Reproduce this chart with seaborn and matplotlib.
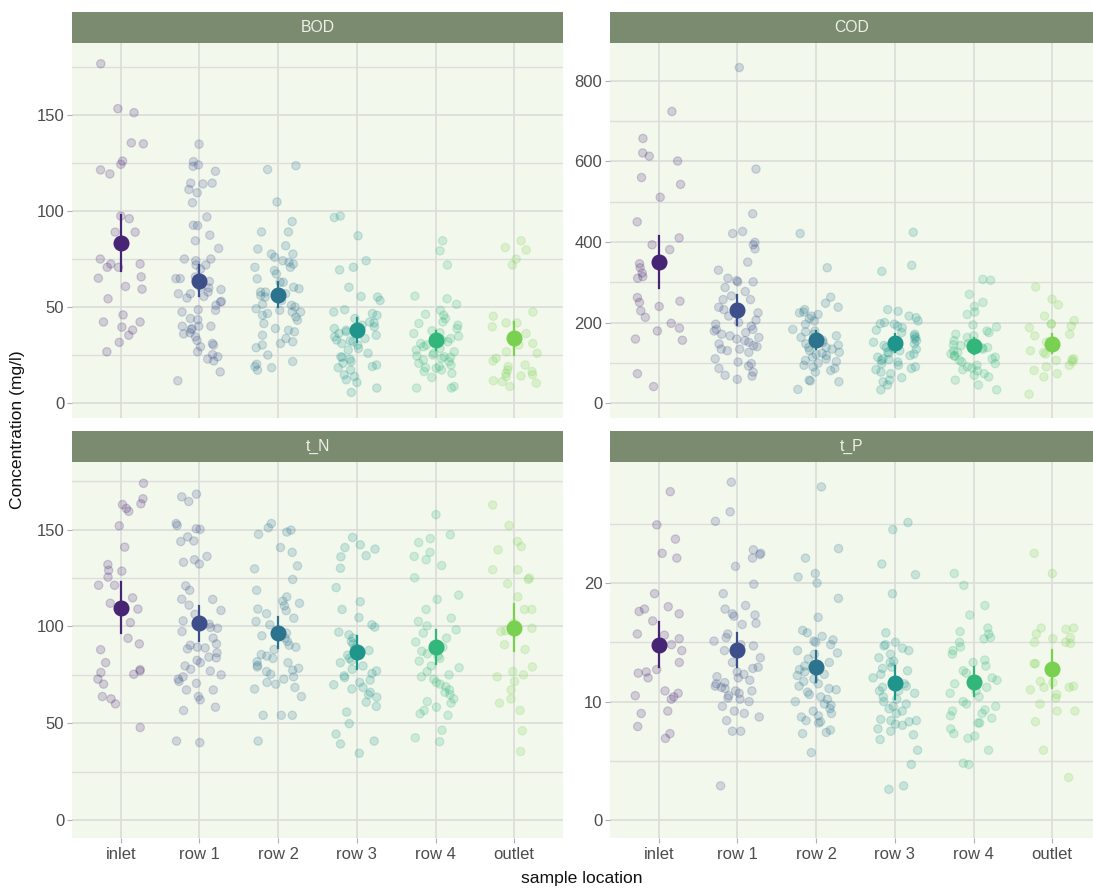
import numpy as np
import pandas as pd
import matplotlib
matplotlib.use("Agg")
import matplotlib.pyplot as plt
from matplotlib.patches import Rectangle
import seaborn as sns

locations = ["inlet", "row 1", "row 2", "row 3", "row 4", "outlet"]
parameters = ["BOD", "COD", "t_N", "t_P"]

# ---- BOD (mg/l) ----
bod_inlet = [176.7, 151.2, 153.3, 135.5, 135, 126, 124.3, 121.4, 119.3, 97.4, 96, 89, 89, 75, 72.4,
             72.4, 70.7, 70.7, 65.7, 65, 60.7, 59.3, 54.3, 45.9, 42.2, 42.2, 39.5, 38, 35.3, 31.6, 26.7]
bod_row1 = [134.8, 125.7, 124, 123.3, 120.7, 114.5, 114.5, 114.1, 111.2, 109.5, 104.3, 96.9, 92.6, 92.4,
            87.4, 84.5, 80.5, 75, 75, 74.1, 71.9, 71.9, 69.7, 65.7, 64.8, 64.8, 63.3, 60.2, 60, 59.1,
            57.8, 56.9, 56.9, 55.5, 54.7, 52.9, 52.6, 50.9, 48.6, 48.3, 47.4, 44, 43.4, 40, 40, 40,
            38.8, 38.3, 36.6, 36, 34.5, 32.6, 31, 30.2, 29.3, 26.7, 25.2, 24.1, 22.9, 21.9, 16.2, 11.6]
bod_row2 = [123.6, 121.6, 104.7, 94.5, 89.1, 89.1, 81.9, 80.2, 77.6, 77.6, 75.9, 74.1, 73.3, 72.4, 70.7,
            70.7, 69, 67.2, 64.7, 62.9, 62.9, 60.3, 59.5, 57.8, 57.8, 56.9, 56, 55.2, 53.4, 51.4, 50.9,
            50, 49.1, 48.3, 47.4, 47.4, 46.6, 45.7, 44.8, 43.1, 41.4, 38.8, 37.9, 37.1, 35.3, 33.6,
            31.9, 31, 30.2, 28.8, 25, 21.6, 20.2, 19, 18.4, 17.1]
bod_row3 = [97.4, 96.6, 87.1, 74.1, 70.7, 69.3, 60.3, 55.5, 55.2, 53.4, 48.6, 47.4, 46.6, 45.7, 44,
            42.2, 41.7, 40.5, 39.7, 38.8, 37.9, 37.1, 36.2, 35.3, 34.5, 33.6, 32.8, 32.4, 31.9, 31,
            30.2, 28.4, 27.6, 25.9, 24.1, 23.8, 22.8, 21.6, 20.7, 19.8, 19, 18.4, 17.2, 14.7, 13.8,
            12.1, 10.7, 7.8, 5.5]
bod_row4 = [84.5, 79.3, 71.9, 55.7, 54.3, 51.4, 48.3, 46.2, 45.7, 44, 42.2, 41.4, 40.5, 38.8, 37.6,
            36.6, 36.2, 34.8, 33.6, 32.8, 31.9, 31, 30.2, 29.3, 28.4, 27.6, 26.7, 25.9, 25, 24.5,
            24.1, 23.8, 23.3, 22.4, 21.6, 20.7, 19.8, 19, 18.4, 18.1, 17.2, 16.4, 15.5, 13.3, 8.6,
            7.8, 7.8]
bod_outlet = [84.5, 81, 79.7, 75, 71.9, 47.4, 45.2, 41.7, 41.7, 39.7, 36.2, 34.8, 31, 30.2, 26.7,
              25.9, 23.3, 21.9, 19.8, 19, 17.2, 16.4, 15.5, 14.7, 14.1, 13.8, 11.6, 11.2, 10.3, 8.6]

# ---- COD (mg/l) ----
cod_inlet = [621, 613, 601, 657, 724, 560, 543, 511, 450, 410, 393, 381, 354, 346, 336, 323, 314,
             310, 262, 253, 250, 240, 229, 213, 198, 186, 179, 159, 156, 73, 41]
cod_row1 = [833, 581, 470, 426, 421, 393, 399, 383, 350, 330, 310, 304, 301, 301, 287, 277, 266,
            257, 257, 238, 238, 232, 224, 216, 206, 200, 196, 191, 183, 183, 179, 175, 171, 167,
            163, 159, 155, 151, 147, 143, 140, 134, 134, 130, 126, 110, 102, 98, 92, 86, 77, 69,
            67, 59]
cod_row2 = [421, 336, 263, 248, 238, 232, 226, 224, 220, 216, 210, 204, 196, 183, 179, 177, 171,
            167, 163, 156, 151, 147, 147, 144, 138, 138, 134, 130, 126, 124, 121, 118, 114, 110,
            106, 103, 99, 94, 90, 86, 81, 77, 57, 55, 53, 34]
cod_row3 = [424, 342, 327, 232, 228, 216, 212, 204, 200, 197, 196, 191, 187, 181, 175, 171, 167,
            163, 159, 155, 151, 147, 143, 138, 137, 134, 130, 126, 124, 122, 118, 114, 110, 108,
            106, 102, 98, 94, 90, 86, 83, 77, 73, 63, 57, 53, 45, 33]
cod_row4 = [305, 307, 270, 250, 240, 226, 220, 194, 189, 179, 175, 171, 167, 163, 155, 148, 145,
            143, 138, 137, 134, 130, 126, 122, 118, 116, 114, 110, 106, 102, 98, 94, 90, 87, 83,
            80, 73, 69, 65, 57, 45, 33]
cod_outlet = [288, 258, 244, 216, 205, 197, 196, 191, 187, 171, 167, 151, 147, 143, 130, 126, 122,
              110, 108, 106, 103, 94, 90, 81, 73, 65, 22]

# ---- total N (mg/l) ----
tn_inlet = [174, 166, 163, 161, 159.5, 163.4, 152, 141, 132, 129, 128.6, 125.5, 121.3, 121.3, 114.8,
            112, 109, 102, 93.9, 91, 88, 81.3, 77.7, 77, 76.2, 75.3, 72.8, 70.2, 63.8, 62.6, 60, 47.8]
tn_row1 = [168.4, 167, 164.6, 153.2, 152.2, 150.5, 150.2, 146.3, 144.2, 143.9, 136.2, 134.5, 133.2,
           132.3, 121, 118.7, 114.1, 114, 111, 108.3, 106.3, 102.9, 101.2, 99.5, 99.1, 97.4, 94, 91,
           90.3, 89.3, 88.9, 88.4, 86.4, 84.2, 83.8, 82.5, 81.3, 79.6, 77.9, 77, 75, 74, 72.8, 71.6,
           70.6, 67.2, 67.2, 63.8, 62.1, 58.3, 56.6, 40.8, 40]
tn_row2 = [153.2, 151, 149.8, 148.8, 147.6, 140.8, 138.3, 131.3, 129.8, 124.3, 118.7, 115.3, 113.1,
           112, 110.7, 109, 108.2, 106.6, 104.3, 102.6, 100.9, 96.6, 95.2, 94, 92.3, 90.3, 89.3, 88.1,
           85.5, 84.7, 83.5, 81.8, 81.3, 79.9, 79.1, 78.4, 77.4, 76.7, 75.3, 74, 72.8, 71.1, 70.2,
           68.5, 67.7, 63.8, 54.1, 54.1, 54.1, 40.8]
tn_row3 = [146, 142.2, 140.8, 140, 136.6, 136, 130.1, 120.1, 112.8, 108.8, 104.6, 100.9, 99.7, 97.1,
           95.7, 94, 92.3, 91, 88.9, 87.6, 85.2, 83.5, 82.5, 81.3, 79.6, 77.9, 77, 75.7, 74.5, 73.6,
           72.3, 71.1, 69.9, 68.5, 67.7, 66, 64.8, 63.4, 60.9, 58.7, 55.8, 49.8, 44.4, 40.8, 39.3, 34.5]
tn_row4 = [157.8, 147.4, 145.4, 143.4, 138.3, 136.2, 134.5, 131.5, 125.2, 116.2, 114, 108.8, 104.3,
           102.6, 100.3, 98.3, 96.6, 94, 92, 90.6, 89.3, 87.2, 85.9, 84.7, 83.5, 82.1, 79.6, 78.7,
           76.7, 75, 74, 72.8, 71.1, 70.2, 68.9, 67.2, 66, 64.8, 62.6, 61.2, 60.4, 58.3, 56.6, 54.9,
           54.1, 46.4, 42.5, 40.5]
tn_outlet = [162.8, 152.2, 143.9, 141.3, 139.6, 129.3, 129.3, 125, 124.3, 122.1, 115.3, 108.8, 108.8,
             101.7, 99.1, 97.8, 97.4, 90.6, 88.1, 79.1, 76.7, 75, 74, 71.6, 67.2, 62.6, 60.4, 56.6,
             46.1, 35.4]

# ---- total P (mg/l) ----
tp_inlet = [27.7, 24.9, 23.7, 22.5, 22.1, 19.1, 18, 17.8, 17.6, 17.4, 16.8, 15.7, 15.6, 15.3, 14.8,
            14.3, 13.3, 12.7, 12.5, 12.4, 12, 10.9, 10.7, 10.5, 10.4, 10.2, 9.2, 9, 7.9, 7.3, 6.9]
tp_row1 = [28.5, 26, 25.2, 22.5, 22.8, 22.4, 22.1, 21.4, 19.9, 19.1, 18.1, 17.8, 17.4, 17.3, 17.2,
           16.6, 16.5, 15.7, 15.4, 15.1, 14.8, 14.7, 14.3, 14, 13.7, 13.3, 12.9, 12.8, 12.5, 12.3,
           12.1, 12, 11.8, 11.6, 11.5, 11.3, 11.2, 11.1, 10.9, 10.9, 10.7, 10.5, 10.3, 10.2, 10, 9.6,
           9.2, 9, 8.7, 8.4, 7.5, 7.5, 2.9]
tp_row2 = [28.1, 22.9, 22.1, 20.8, 20.5, 20, 18.7, 17.1, 16, 15.8, 15.5, 15.2, 15.1, 15, 14.8, 14.3,
           14.1, 14, 13.6, 13.3, 13, 12.7, 12.5, 12.3, 12.2, 11.9, 11.7, 11.5, 11.3, 11.1, 11, 10.8,
           10.6, 10.4, 10.2, 10, 9.8, 9.7, 9.4, 9.2, 9, 8.8, 8.7, 8.4, 8.3, 8.2, 7.6, 7.4, 7.3, 5.7]
tp_row3 = [25.1, 24.5, 21.6, 20.7, 19.1, 15.8, 15, 14.8, 14.7, 14.5, 14.3, 14, 13.7, 13.4, 13.3,
           12.9, 12.8, 12.6, 12.3, 12, 11.5, 11.3, 11.2, 10.9, 10.9, 10.7, 10.4, 10.2, 10, 9.8, 9.6,
           9.4, 9.2, 9, 8.5, 8.4, 8.4, 8.3, 8.1, 8, 7.7, 7.5, 7.2, 6.8, 5.9, 4.7, 2.9, 2.6]
tp_row4 = [20.8, 19.8, 18.1, 17.3, 16.2, 15.9, 15.7, 15.4, 15.3, 15, 14.6, 14.3, 14, 13.5, 13.3, 13,
           12.6, 12.4, 12, 11.8, 11.5, 11.2, 10.9, 10.7, 10.4, 10, 9.8, 9.6, 9.3, 9.2, 9, 8.8, 8.6,
           8.2, 8.2, 7.7, 7.3, 7.1, 6.9, 5.9, 4.8, 4.7]
tp_outlet = [22.5, 20.8, 16.2, 16.2, 16.1, 15.7, 15.4, 15.3, 15, 15, 14.9, 13.2, 13.2, 11.7, 11.6,
             11.3, 11.2, 11.2, 11, 10.6, 10.3, 9.8, 9.2, 9.2, 8.3, 5.9, 3.6]

y_ticks_major = {"BOD": [0, 50, 100, 150], "COD": [0, 200, 400, 600, 800],
                 "t_N": [0, 50, 100, 150], "t_P": [0, 10, 20]}
y_ticks_minor = {"BOD": [25, 75, 125, 175], "COD": [100, 300, 500, 700],
                 "t_N": [25, 75, 125, 175], "t_P": [5, 15, 25]}
y_limits = {"BOD": (-7.8, 187.5), "COD": (-37, 894), "t_N": (-9.3, 185), "t_P": (-1.5, 30.2)}

series = {
    "BOD": [bod_inlet, bod_row1, bod_row2, bod_row3, bod_row4, bod_outlet],
    "COD": [cod_inlet, cod_row1, cod_row2, cod_row3, cod_row4, cod_outlet],
    "t_N": [tn_inlet, tn_row1, tn_row2, tn_row3, tn_row4, tn_outlet],
    "t_P": [tp_inlet, tp_row1, tp_row2, tp_row3, tp_row4, tp_outlet],
}

rows = []
for p in parameters:
    for loc, vals in zip(locations, series[p]):
        for v in vals:
            rows.append((p, loc, v))
df = pd.DataFrame(rows, columns=["parameter", "location", "value"])
df["location"] = pd.Categorical(df["location"], categories=locations, ordered=True)

cmap = plt.get_cmap("viridis")
palette = {loc: cmap(pos) for loc, pos in zip(locations, [0.1, 0.24, 0.38, 0.52, 0.66, 0.8])}

plt.rcParams["font.family"] = ["Liberation Sans", "DejaVu Sans"]

W, H = 1093, 888
fig = plt.figure(figsize=(W / 100, H / 100), dpi=100)

panel_bg = "#f3f8ed"
strip_col = "#7b8b70"
grid_col = "#dcdedb"
tick_col = "#4d4d4d"

# panel boxes in pixel coords: (left, top, width, height)
boxes = {
    "BOD": (72, 43, 491, 375),
    "COD": (610, 43, 491, 375),
    "t_N": (72, 462, 491, 376),
    "t_P": (610, 462, 491, 376),
}
strip_h = 31

np.random.seed(7)
for p in parameters:
    l, t, w, h = boxes[p]
    ax = fig.add_axes([l / W, 1 - (t + h) / H, w / W, h / H])
    ax.set_facecolor(panel_bg)
    sub = df[df["parameter"] == p]
    sns.stripplot(data=sub, x="location", y="value", hue="location", order=locations,
                  hue_order=locations, palette=palette, jitter=0.3, alpha=0.2, size=6.0,
                  linewidth=0.9, legend=False, ax=ax, zorder=3)
    for coll in ax.collections:
        coll.set_edgecolor(coll.get_facecolor())
    sns.pointplot(data=sub, x="location", y="value", hue="location", order=locations,
                  hue_order=locations, palette=palette, errorbar=("se", 2), markers="o",
                  linestyle="none", markersize=9.5, err_kws={"linewidth": 1.6},
                  legend=False, ax=ax)
    for ln in ax.lines:
        ln.set_zorder(5)
    ax.set_xlim(-0.62, 5.62)
    ax.set_ylim(*y_limits[p])
    ax.set_yticks(y_ticks_major[p])
    ax.set_yticks(y_ticks_minor[p], minor=True)
    ax.set_xticks(range(len(locations)))
    ax.grid(True, which="major", color=grid_col, linewidth=1.3, zorder=0)
    ax.grid(True, which="minor", axis="y", color=grid_col, linewidth=1.0, zorder=0)
    ax.set_axisbelow(True)
    for s in ax.spines.values():
        s.set_visible(False)
    ax.set_xlabel("")
    ax.set_ylabel("")
    ax.tick_params(axis="y", which="major", length=3.5, color="#b0b0b0", labelcolor=tick_col,
                   labelsize=12, pad=2)
    ax.tick_params(axis="y", which="minor", length=0)
    if p in ("BOD", "COD"):
        ax.tick_params(axis="x", length=0, labelbottom=False)
    else:
        ax.set_xticklabels(locations)
        ax.tick_params(axis="x", length=3.5, color="#b0b0b0", labelcolor=tick_col,
                       labelsize=12, pad=3)
    # facet strip
    ax.add_patch(Rectangle((0, 1), 1, strip_h / h, transform=ax.transAxes, facecolor=strip_col,
                           edgecolor="none", clip_on=False, zorder=6))
    visible_w = min(w, W - l)
    ax.text(visible_w / 2 / w, 1 + strip_h / h / 2, p, transform=ax.transAxes,
            ha="center", va="center", color="#eef0e8", fontsize=11.3, zorder=7)

fig.text(582 / W, 1 - 878 / H, "sample location", ha="center", va="center", fontsize=12.6,
         color="#111111")
fig.text(18 / W, 1 - 430 / H, "Concentration (mg/l)", ha="center", va="center", rotation=90,
         fontsize=12.6, color="#111111")

fig.savefig("out.png", dpi=100, facecolor="white")
